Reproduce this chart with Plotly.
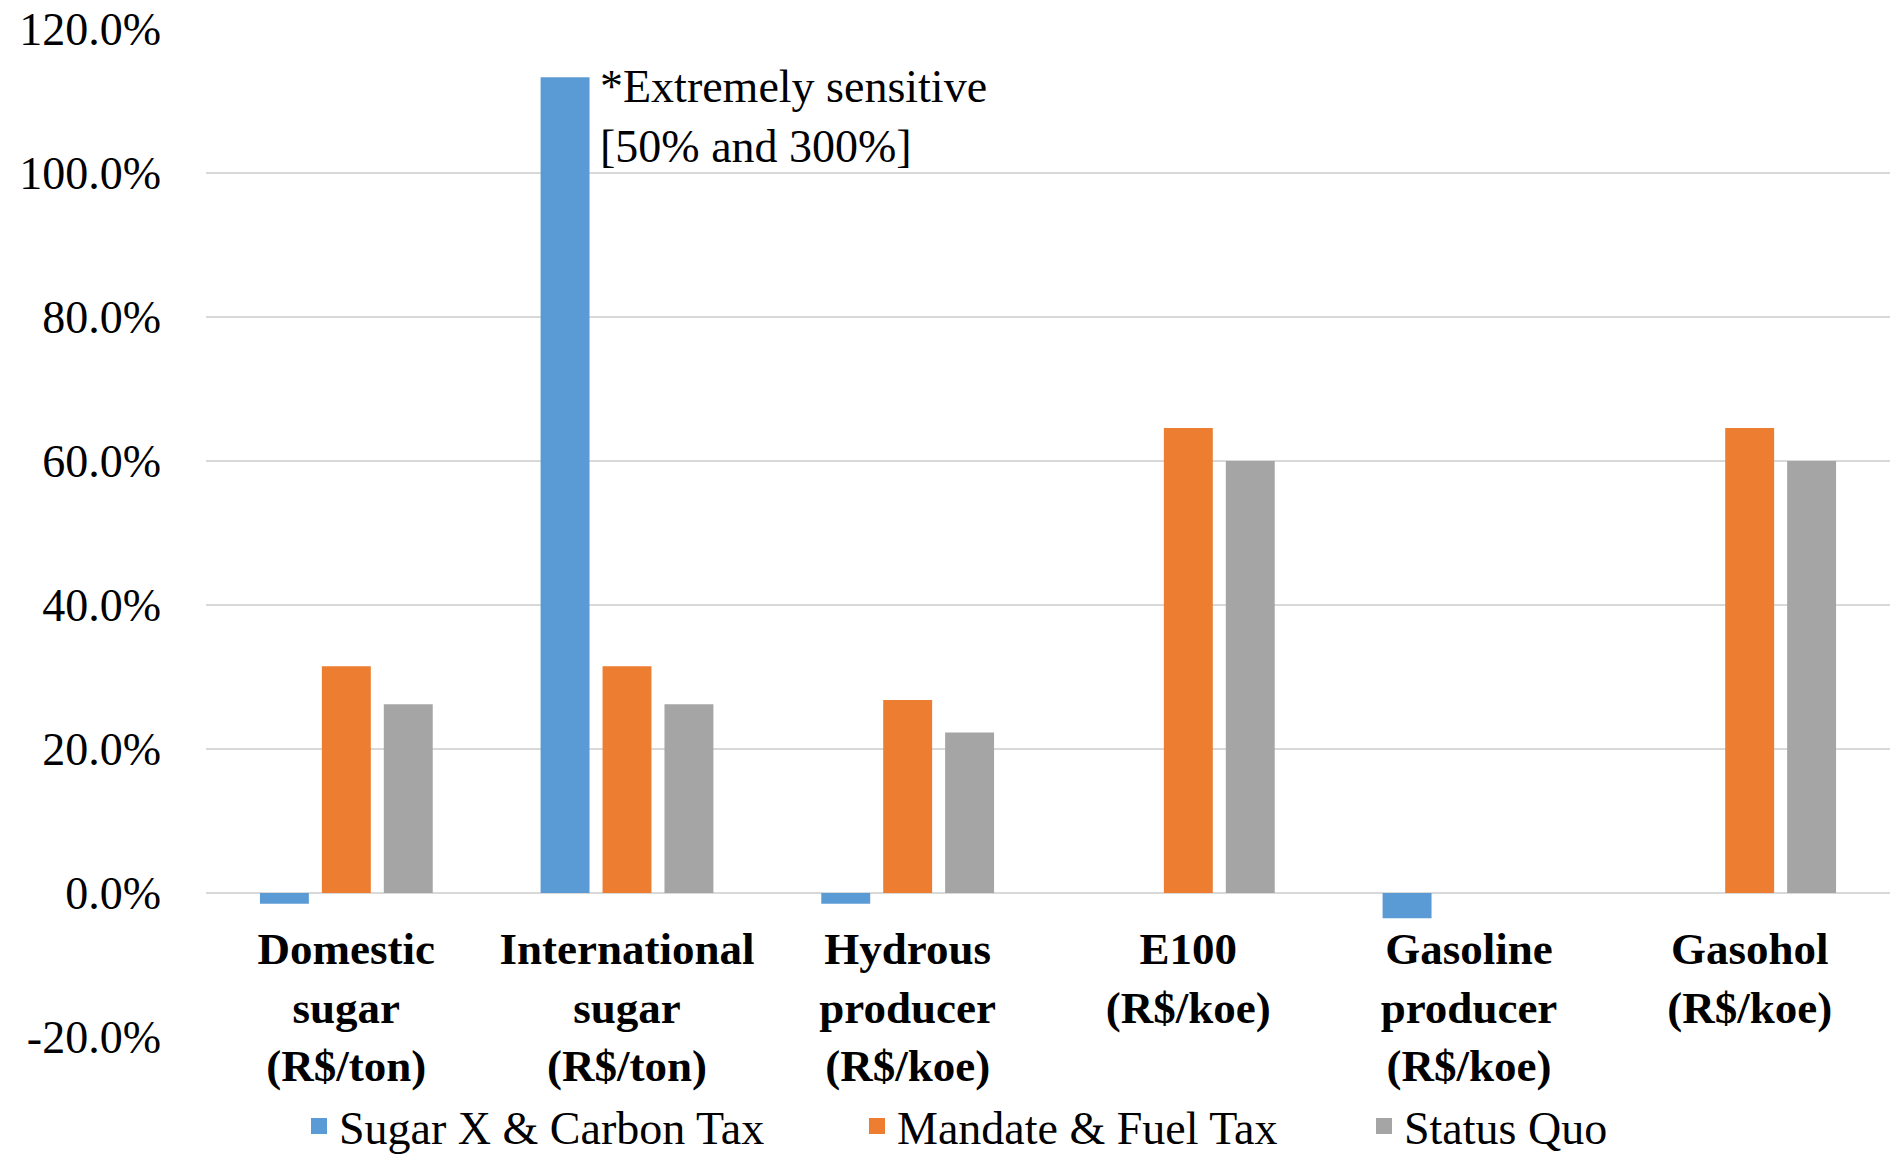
import plotly.graph_objects as go

categories = ["Domestic sugar", "International sugar", "Hydrous producer",
              "E100", "Gasoline producer", "Gasohol"]
tick_labels = ["Domestic<br>sugar<br>(R$/ton)", "International<br>sugar<br>(R$/ton)",
               "Hydrous<br>producer<br>(R$/koe)", "E100<br>(R$/koe)",
               "Gasoline<br>producer<br>(R$/koe)", "Gasohol<br>(R$/koe)"]
series_names = ["Sugar X & Carbon Tax", "Mandate & Fuel Tax", "Status Quo"]
sugar_x_carbon = [-1.5, 113.3, -1.5, 0.0, -3.5, 0.0]
mandate_fuel = [31.5, 31.5, 26.8, 64.6, 0.0, 64.6]
status_quo = [26.2, 26.2, 22.3, 60.0, 0.0, 60.0]
colors = ["#5B9BD5", "#ED7D31", "#A5A5A5"]
y_ticks = [-20, 0, 20, 40, 60, 80, 100, 120]
note_text = "*Extremely sensitive<br>[50% and 300%]"

FONT = "Liberation Serif, Times New Roman, serif"

fig = go.Figure()
for name, vals, col in zip(series_names, [sugar_x_carbon, mandate_fuel, status_quo], colors):
    fig.add_trace(go.Bar(x=categories, y=vals, name=name, marker_color=col,
                         marker_line_width=0, showlegend=False))

legend_ids = ["legend", "legend2", "legend3"]
for name, col, lg in zip(series_names, colors, legend_ids):
    fig.add_trace(go.Scatter(x=[None], y=[None], mode="markers", name=name,
                             marker=dict(symbol="square", size=16, color=col),
                             showlegend=True, legend=lg))

W, H = 1890, 1156
ml, mr, mt, mb = 206, 0, 29, 119
pw = W - ml - mr
ph = H - mt - mb

def px_x(p):
    return (p - ml) / pw

def px_y(p):
    return (H - mb - p) / ph

leg_font = dict(family=FONT, size=46, color="black")
legend_common = dict(orientation="h", yanchor="middle", y=px_y(1126), xanchor="left",
                     font=leg_font, bgcolor="rgba(0,0,0,0)", borderwidth=0)

fig.update_layout(
    width=W, height=H,
    margin=dict(l=ml, r=mr, t=mt, b=mb, pad=0, autoexpand=False),
    paper_bgcolor="white", plot_bgcolor="white",
    barmode="group", bargap=0.338, bargroupgap=0.21,
    font=dict(family=FONT, size=46, color="black"),
    legend=dict(x=px_x(299), **legend_common),
    legend2=dict(x=px_x(857), **legend_common),
    legend3=dict(x=px_x(1364), **legend_common),
)

fig.update_yaxes(range=[-20, 120], tickvals=y_ticks,
                 ticktext=[f"{v:.1f}%" for v in y_ticks],
                 showgrid=True, gridcolor="#D9D9D9", gridwidth=2,
                 zeroline=False, showline=False, ticks="",
                 ticklabelstandoff=44,
                 tickfont=dict(family=FONT, size=46, color="black"))

fig.update_xaxes(categoryorder="array", categoryarray=categories,
                 tickvals=categories, ticktext=[f"<b>{t}</b>" for t in tick_labels],
                 anchor="free", position=20 / 140,
                 showgrid=False, zeroline=False, showline=False, ticks="",
                 ticklabelstandoff=25,
                 tickfont=dict(family=FONT, size=45, color="black"))

fig.add_annotation(x=px_x(598), xref="paper", y=107.9, yref="y",
                   text=note_text, showarrow=False, xanchor="left", yanchor="middle",
                   align="left", font=dict(family=FONT, size=46, color="black"))

fig.write_html("out.html")
